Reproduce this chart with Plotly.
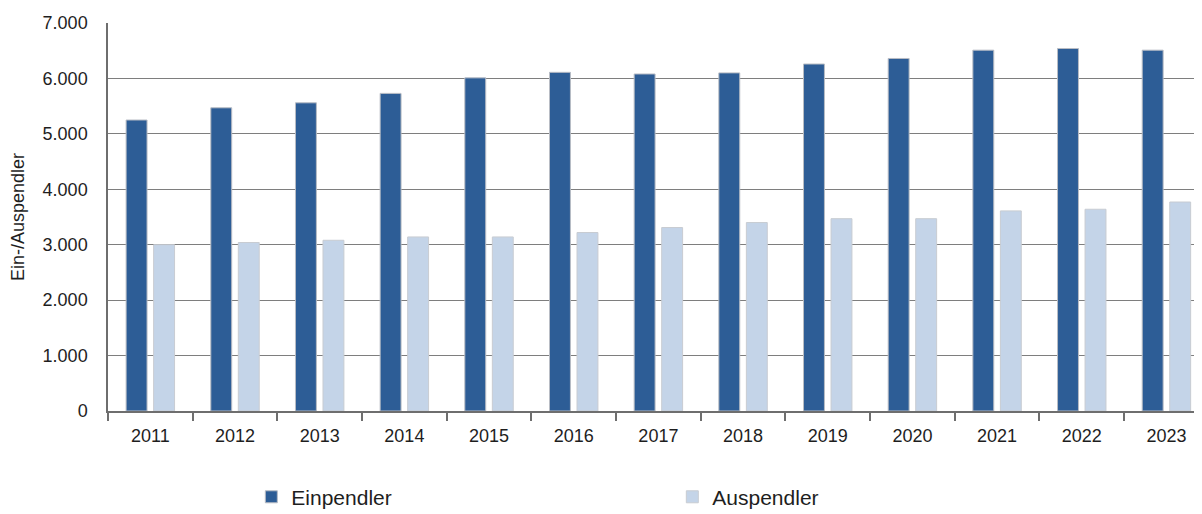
import plotly.graph_objects as go

years = ["2011", "2012", "2013", "2014", "2015", "2016", "2017",
         "2018", "2019", "2020", "2021", "2022", "2023"]
einpendler = [5250, 5470, 5560, 5730, 6010, 6110, 6080,
              6100, 6260, 6360, 6510, 6540, 6510]
auspendler = [3000, 3040, 3080, 3140, 3140, 3220, 3310,
              3400, 3470, 3470, 3610, 3640, 3770]
y_ticks = [0, 1000, 2000, 3000, 4000, 5000, 6000, 7000]
y_tick_labels = ["0", "1.000", "2.000", "3.000", "4.000", "5.000", "6.000", "7.000"]

FONT = "Liberation Sans, Arial, sans-serif"
TXT = "#1e1e1e"

fig = go.Figure()
fig.add_trace(go.Bar(
    x=years, y=einpendler, name="Einpendler",
    marker=dict(color="#2d5d96", line=dict(color="#b8bcc4", width=1)),
))
fig.add_trace(go.Bar(
    x=years, y=auspendler, name="Auspendler",
    marker=dict(color="#c4d4e8", line=dict(color="#c8ccd2", width=1)),
))

# page body adds an 8px margin, so the figure is sized to fit the 1202x514 window
fig.update_layout(
    width=1194, height=506,
    margin=dict(l=100, r=0, t=15, b=103, autoexpand=False),
    paper_bgcolor="white", plot_bgcolor="white",
    barmode="group", bargap=0.35, bargroupgap=0.24,
    font=dict(family=FONT, size=18, color=TXT),
    showlegend=True,
    legend=dict(
        orientation="h", x=0.131, xanchor="left", y=-0.222, yanchor="middle",
        font=dict(size=21, color=TXT),
        entrywidth=376, entrywidthmode="pixels",
        bgcolor="rgba(0,0,0,0)",
    ),
    xaxis=dict(
        type="category", range=[-0.5, 12.42], automargin=False,
        showline=True, linecolor="#6e6e6e", linewidth=1.5,
        ticks="outside", tickson="boundaries", ticklen=8, tickcolor="#6e6e6e",
        tickwidth=1.5, ticklabelstandoff=8,
        showgrid=False, tickfont=dict(size=18, color=TXT),
    ),
    yaxis=dict(
        range=[0, 7000], tickvals=y_ticks, ticktext=y_tick_labels,
        automargin=False,
        showline=True, linecolor="#6e6e6e", linewidth=1.5,
        showgrid=True, gridcolor="#7e7e7e", gridwidth=1,
        ticks="", ticklabelstandoff=15,
        tickfont=dict(size=18, color=TXT),
        title=dict(text="Ein-/Auspendler", font=dict(size=18, color=TXT)),
        zeroline=False,
    ),
)

fig.write_html("out.html")
